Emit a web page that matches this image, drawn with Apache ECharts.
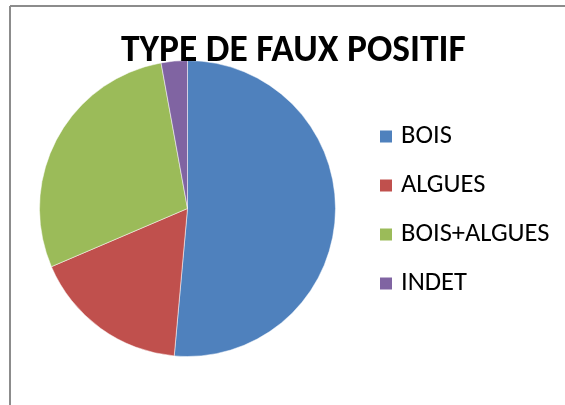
<!DOCTYPE html>
<html>
<head>
<meta charset="utf-8">
<script src="https://cdn.jsdelivr.net/npm/echarts@6/dist/echarts.min.js"></script>
<style>
  html, body { margin: 0; padding: 0; background: #fff; }
  #main { width: 565px; height: 405px; }
</style>
</head>
<body>
<div id="main"></div>
<script>
// categories and counts
var categories = ['BOIS', 'ALGUES', 'BOIS+ALGUES', 'INDET'];
var counts = [18, 6, 10, 1];
var colors = ['#4F81BD', '#C0504D', '#9BBB59', '#8064A2'];
var titleText = 'TYPE DE FAUX POSITIF';

var fontName = 'Carlito, "Open Sans", sans-serif';

var chart = echarts.init(document.getElementById('main'));

chart.setOption({
    animation: false,
    color: colors,
    title: {
        text: titleText,
        left: 121,
        top: 33,
        padding: 0,
        textStyle: {
            fontFamily: fontName,
            fontWeight: 'bold',
            fontSize: 37.5,
            lineHeight: 37,
            color: '#000'
        }
    },
    legend: {
        orient: 'vertical',
        left: 378,
        top: 123,
        padding: 0,
        itemWidth: 14,
        itemHeight: 14,
        itemGap: 22,
        icon: 'rect',
        data: categories,
        textStyle: {
            fontFamily: fontName,
            fontSize: 26.5,
            lineHeight: 27,
            padding: [0, 0, 0, 3],
            color: '#000'
        }
    },
    // chart frame (left and top edges visible)
    graphic: [
        { type: 'line', shape: { x1: 10, y1: 6, x2: 10, y2: 405 }, style: { stroke: '#8c8c8c', lineWidth: 2 } },
        { type: 'line', shape: { x1: 10, y1: 6, x2: 565, y2: 6 }, style: { stroke: '#8c8c8c', lineWidth: 2 } }
    ],
    series: [
        {
            type: 'pie',
            center: [187.5, 208.5],
            radius: 148,
            startAngle: 90,
            clockwise: true,
            z: 1,
            label: { show: false },
            labelLine: { show: false },
            itemStyle: { borderColor: '#fff', borderWidth: 0.5 },
            data: categories.map(function (name, i) {
                return { name: name, value: counts[i] };
            })
        }
    ]
});
</script>
</body>
</html>
